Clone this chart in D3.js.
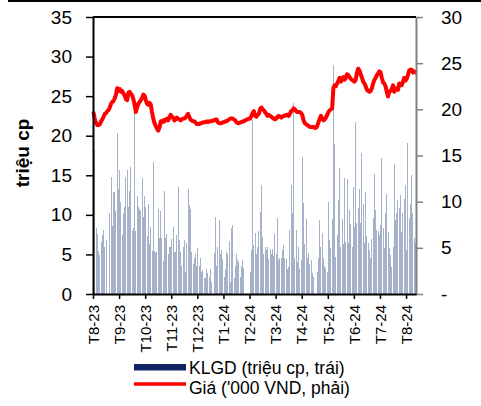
<!DOCTYPE html>
<html>
<head>
<meta charset="utf-8">
<script src="https://cdn.jsdelivr.net/npm/d3@7"></script>
<style>
  body { margin: 0; background: #fff; }
  svg { display: block; font-family: "Liberation Sans", Arial, sans-serif; }
</style>
</head>
<body>
<svg id="chart" width="481" height="406"></svg>
<script>
// month labels and the bar index where each month tick sits
const monthLabels = ["T8-23","T9-23","T10-23","T11-23","T12-23","T1-24","T2-24","T3-24","T4-24","T5-24","T6-24","T7-24","T8-24"];
const monthTicks = [0,21,42,63,84,105,126,147,168,189,210,231,252];

// KLGD (trieu cp) per trading session
const volume = [
  // T8-23
  8.2,18.2,8.3,7.6,5.4,4.9,6.6,7.4,8.1,6.0,6.8,0,0,10.2,14.8,8.6,12.9,12.9,10.5,20.3,13.3,
  // T9-23
  15.7,11.6,7.4,10.2,11.0,14.8,15.7,11.0,13.0,16.0,8.0,8.4,23.0,8.0,12.4,11.0,10.8,10.5,14.6,9.7,12.4,
  // T10-23
  11.0,7.3,11.4,6.3,8.5,5.4,16.7,5.4,5.2,5.3,10.7,7.1,10.5,7.1,4.2,13.0,7.1,7.6,5.0,6.0,6.0,
  // T11-23
  7.0,8.5,5.3,5.3,7.5,13.5,6.8,5.3,3.5,6.0,6.8,2.8,6.5,13.3,11.2,10.8,5.3,3.8,4.5,5.0,3.5,
  // T12-23
  5.8,3.6,4.5,2.8,3.0,2.0,2.0,3.2,2.6,2.2,3.2,1.5,0,5.2,9.7,3.6,6.0,9.3,5.0,5.6,4.4,
  // T1-24
  2.2,3.2,5.3,5.0,6.7,1.5,8.4,8.7,2.0,3.5,5.0,4.3,4.0,2.2,3.5,4.3,3.3,0,0,0,0,
  // T2-24
  2.8,5.5,22.0,6.2,7.7,5.0,6.0,8.0,10.4,13.8,7.2,5.0,6.0,5.5,6.0,4.4,5.7,5.0,5.7,4.8,7.6,
  // T3-24
  5.0,9.6,4.3,4.5,4.6,5.5,6.2,4.6,4.4,3.2,3.4,8.1,13.8,10.2,24.1,4.5,8.1,4.0,6.0,3.2,4.3,
  // T4-24
  17.3,11.5,6.3,9.5,4.5,5.2,3.8,4.3,2.6,2.2,0,0,2.8,4.5,9.3,6.0,7.7,4.6,3.6,3.3,2.8,
  // T5-24
  11.6,6.8,5.8,9.5,28.9,19.0,4.7,7.4,11.9,15.9,6.0,9.5,6.3,14.6,6.6,14.5,6.4,10.6,8.8,6.0,13.5,
  // T6-24
  8.5,21.7,9.0,10.9,13.3,9.0,17.8,11.4,6.4,12.9,7.3,6.5,5.6,4.5,7.0,9.6,15.2,10.6,8.1,8.0,7.4,
  // T7-24
  8.7,17.2,8.3,5.8,10.2,12.6,7.8,5.8,4.9,3.4,6.0,16.4,9.3,10.2,11.9,10.9,12.5,7.8,10.2,12.0,13.8,
  // T8-24
  5.6,19.1,9.6,11.4,15.0,10.2,7.1,6.5
];

// Gia ('000 VND) per trading session
const price = [
  // T8-23
  19.6,18.9,18.5,18.3,18.3,18.4,18.7,18.9,19.2,19.5,19.6,19.8,19.9,20.2,20.6,20.8,20.9,21.2,21.6,22.3,22.0,
  // T9-23
  22.2,21.9,22.0,21.7,21.5,21.1,21.0,21.8,21.9,21.7,21.5,21.1,20.5,19.7,20.2,20.6,20.8,21.0,21.2,21.6,21.5,
  // T10-23
  21.0,20.6,20.5,20.7,20.5,19.7,19.0,18.5,18.2,17.9,17.7,18.0,18.7,18.6,18.8,18.7,18.9,19.0,18.8,19.1,19.4,
  // T11-23
  19.2,19.1,18.8,18.9,19.1,19.0,18.9,18.8,18.9,19.0,19.0,19.1,19.3,19.5,19.2,18.9,18.8,18.7,18.7,18.6,18.4,
  // T12-23
  18.4,18.4,18.5,18.5,18.6,18.6,18.6,18.7,18.6,18.7,18.7,18.7,18.8,18.8,18.9,18.9,18.6,18.5,18.5,18.5,18.6,
  // T1-24
  18.6,18.7,18.7,18.8,18.9,19.0,19.0,19.0,18.9,18.8,18.6,18.5,18.5,18.6,18.6,18.7,18.7,18.8,18.9,18.9,19.0,
  // T2-24
  19.0,19.3,19.6,19.8,19.3,19.2,19.4,19.5,20.0,20.2,20.0,19.9,19.7,19.5,19.3,19.4,19.3,19.2,19.1,19.0,18.9,
  // T3-24
  19.0,19.2,19.3,19.2,19.1,19.2,19.3,19.3,19.4,19.4,19.3,19.5,19.8,19.9,20.1,20.0,19.8,19.7,19.7,19.7,19.6,
  // T4-24
  19.4,18.8,18.5,18.4,18.3,18.2,18.1,18.1,18.1,18.1,18.0,18.0,18.2,18.6,19.0,19.3,19.0,18.8,18.9,19.1,19.4,
  // T5-24
  19.7,19.9,20.0,20.1,22.3,22.6,22.5,22.8,23.1,23.4,23.0,23.3,23.5,23.2,23.4,23.8,23.7,23.5,23.3,23.2,23.1,
  // T6-24
  23.0,23.2,24.0,24.4,24.2,23.8,23.4,23.0,22.8,22.5,22.1,22.0,21.9,22.0,22.3,22.8,23.2,23.4,23.7,23.9,24.1,
  // T7-24
  24.0,23.4,22.9,22.8,22.5,21.9,21.4,21.9,22.0,22.2,22.6,21.9,22.2,22.3,22.1,22.8,22.6,22.6,23.0,23.4,23.1,
  // T8-24
  23.3,23.7,24.2,24.3,24.3,24.0,24.1,24.0
];

const svg = d3.select("#chart");
const plot = { left: 93, right: 416, top: 17, bottom: 294 };

const x = d3.scaleBand()
  .domain(d3.range(volume.length))
  .range([plot.left, plot.right])
  .padding(0);
const xTick = d3.scaleLinear()
  .domain([0, volume.length])
  .range([plot.left, plot.right]);
const yLeft = d3.scaleLinear().domain([0, 35]).range([plot.bottom, plot.top]);
const yRight = d3.scaleLinear().domain([0, 30]).range([plot.bottom, plot.top]);

// thin rule at top of page
svg.append("rect")
  .attr("x", 8).attr("y", 0)
  .attr("width", 473).attr("height", 2)
  .attr("fill", "#000");

// volume bars
const bw = x.bandwidth();
svg.append("g")
  .attr("shape-rendering", "crispEdges")
  .selectAll("rect")
  .data(volume)
  .join("rect")
  .attr("x", (d, i) => x(i) + (bw - 1) / 2)
  .attr("width", 1)
  .attr("y", d => yLeft(d))
  .attr("height", d => plot.bottom - yLeft(d))
  .attr("fill", "#a6b1ca");

// price line
const line = d3.line()
  .x((d, i) => x(i) + bw / 2)
  .y(d => yRight(d));

svg.append("path")
  .datum(price)
  .attr("d", line)
  .attr("fill", "none")
  .attr("stroke", "#ff0000")
  .attr("stroke-width", 4)
  .attr("stroke-linejoin", "round")
  .attr("stroke-linecap", "round");

// top frame line
svg.append("line")
  .attr("x1", plot.left).attr("x2", plot.right)
  .attr("y1", plot.top).attr("y2", plot.top)
  .attr("stroke", "#000").attr("stroke-width", 2);

// left axis
const gLeft = svg.append("g")
  .attr("transform", `translate(${plot.left},0)`)
  .call(d3.axisLeft(yLeft).tickValues(d3.range(0, 36, 5)).tickSize(7).tickSizeOuter(0).tickPadding(14));
gLeft.select(".domain").attr("stroke", "#000").attr("stroke-width", 2);
gLeft.selectAll(".tick line").attr("stroke", "#000").attr("stroke-width", 1.5);
gLeft.selectAll(".tick text")
  .attr("font-size", 19).attr("fill", "#000")
  .attr("font-family", "Liberation Sans, Arial, sans-serif");

// right axis
const gRight = svg.append("g")
  .attr("transform", `translate(${plot.right},0)`)
  .call(d3.axisRight(yRight).tickValues(d3.range(0, 31, 5)).tickSize(7).tickSizeOuter(0).tickPadding(18)
    .tickFormat(d => d === 0 ? "-" : d));
gRight.select(".domain").attr("stroke", "#808080").attr("stroke-width", 2);
gRight.selectAll(".tick line").attr("stroke", "#808080").attr("stroke-width", 1.5);
gRight.selectAll(".tick text")
  .attr("font-size", 19).attr("fill", "#000")
  .attr("font-family", "Liberation Sans, Arial, sans-serif");

// bottom axis
const gBottom = svg.append("g")
  .attr("transform", `translate(0,${plot.bottom})`)
  .call(d3.axisBottom(xTick).tickValues(monthTicks).tickSize(5).tickSizeOuter(0)
    .tickFormat((d, i) => monthLabels[i]));
gBottom.select(".domain").attr("stroke", "#000").attr("stroke-width", 2);
gBottom.selectAll(".tick line").attr("stroke", "#000").attr("stroke-width", 1.5);
gBottom.selectAll(".tick text")
  .attr("font-size", 15).attr("fill", "#000")
  .attr("font-family", "Liberation Sans, Arial, sans-serif")
  .attr("transform", "rotate(-90)")
  .attr("text-anchor", "end")
  .attr("x", -11).attr("y", 0).attr("dy", "0.35em");

// y title
svg.append("text")
  .attr("transform", "translate(29,153) rotate(-90)")
  .attr("text-anchor", "middle")
  .attr("font-size", 19)
  .attr("font-weight", "bold")
  .text("triệu cp");

// legend
svg.append("rect")
  .attr("x", 134).attr("y", 364)
  .attr("width", 52).attr("height", 6.5)
  .attr("fill", "#0f2461");
svg.append("text")
  .attr("x", 189).attr("y", 374)
  .attr("font-size", 17.5)
  .text("KLGD (triệu cp, trái)");
svg.append("line")
  .attr("x1", 134).attr("x2", 186)
  .attr("y1", 384).attr("y2", 384)
  .attr("stroke", "#ff0000").attr("stroke-width", 3.5);
svg.append("text")
  .attr("x", 189).attr("y", 394)
  .attr("font-size", 17.5)
  .text("Giá ('000 VND, phải)");
</script>
</body>
</html>
